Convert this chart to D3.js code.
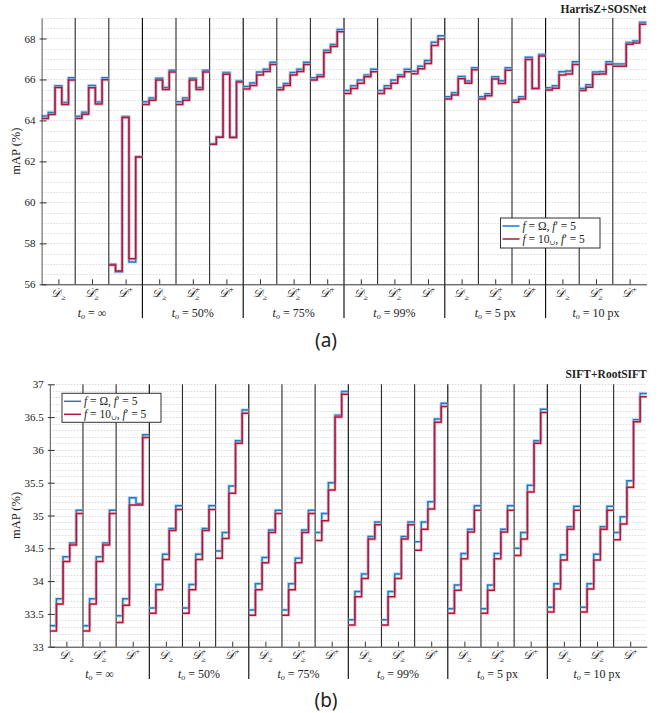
<!DOCTYPE html>
<html><head><meta charset="utf-8">
<script src="https://cdn.jsdelivr.net/npm/d3@7"></script>
<style>
body{margin:0;background:#fff;}
svg{display:block;}
text{font-family:"Liberation Serif","DejaVu Serif",serif;fill:#222;}
</style></head>
<body><svg id="c" width="667" height="713"></svg>
<script>
// ---------- data ----------
const subsets = ["D≥", "D+≥", "D+"];
const thresholds = ["∞", "50%", "75%", "99%", "5 px", "10 px"];
const seriesNames = ["f = Ω, f′ = 5", "f = 10∪, f′ = 5"];

const aTicks = [56, 58, 60, 62, 64, 66, 68];
const bTicks = [33, 33.5, 34, 34.5, 35, 35.5, 36, 36.5, 37];

const aBlue = [
 [64.21,64.39,65.69,64.88,66.08],[64.20,64.40,65.70,64.90,66.08],[56.98,56.61,64.19,57.09,62.22],
 [64.91,65.10,66.06,65.61,66.45],[64.91,65.10,66.06,65.61,66.45],[62.84,63.19,66.34,63.19,65.93],
 [65.66,65.83,66.36,66.50,66.84],[65.60,65.80,66.34,66.50,66.84],[66.08,66.22,67.43,67.71,68.44],
 [65.46,65.69,65.97,66.22,66.50],[65.46,65.69,65.97,66.22,66.50],[66.40,66.65,66.93,67.82,68.13],
 [65.15,65.35,66.15,65.92,66.57],[65.15,65.30,66.13,65.94,66.57],[64.99,65.15,67.08,65.56,67.22],
 [65.59,65.69,66.38,66.41,66.86],[65.56,65.74,66.36,66.38,66.86],[66.75,66.75,67.80,67.88,68.79]
];
const aRed = [
 [64.10,64.29,65.61,64.78,65.97],[64.10,64.30,65.60,64.80,65.98],[56.94,56.65,64.14,57.25,62.22],
 [64.78,64.99,65.97,65.51,66.36],[64.78,64.99,65.97,65.51,66.36],[62.84,63.18,66.26,63.17,65.87],
 [65.54,65.71,66.22,66.39,66.73],[65.50,65.70,66.22,66.39,66.73],[65.97,66.13,67.32,67.61,68.33],
 [65.32,65.56,65.82,66.13,66.38],[65.32,65.56,65.82,66.13,66.38],[66.28,66.52,66.78,67.66,67.97],
 [65.04,65.24,66.04,65.82,66.47],[65.04,65.20,66.02,65.80,66.45],[64.89,65.05,66.98,65.56,67.14],
 [65.48,65.57,66.22,66.27,66.73],[65.46,65.62,66.26,66.27,66.74],[66.65,66.65,67.72,67.78,68.70]
];
const bBlue = [
 [33.32,33.73,34.37,34.58,35.08],[33.32,33.73,34.37,34.58,35.08],[33.47,33.73,35.27,35.18,36.23],
 [33.59,33.95,34.41,34.80,35.15],[33.59,33.95,34.41,34.80,35.15],[34.46,34.74,35.45,36.14,36.61],
 [33.56,33.96,34.36,34.78,35.08],[33.56,33.96,34.35,34.78,35.08],[34.74,35.03,35.50,36.53,36.89],
 [33.41,33.84,34.11,34.68,34.90],[33.41,33.84,34.11,34.68,34.90],[34.60,34.90,35.21,36.47,36.71],
 [33.58,33.94,34.42,34.79,35.15],[33.58,33.94,34.42,34.79,35.15],[34.50,34.74,35.46,36.14,36.62],
 [33.60,33.96,34.40,34.83,35.14],[33.60,33.96,34.41,34.83,35.14],[34.74,34.98,35.53,36.46,36.86]
];
const bRed = [
 [33.24,33.65,34.30,34.55,35.03],[33.24,33.65,34.30,34.55,35.03],[33.37,33.63,35.16,35.16,36.19],
 [33.51,33.87,34.33,34.77,35.09],[33.51,33.87,34.33,34.77,35.09],[34.35,34.65,35.34,36.10,36.56],
 [33.48,33.87,34.28,34.74,35.03],[33.48,33.87,34.28,34.74,35.03],[34.62,34.92,35.39,36.50,36.85],
 [33.33,33.76,34.04,34.64,34.86],[33.33,33.76,34.04,34.64,34.86],[34.47,34.79,35.10,36.42,36.66],
 [33.51,33.86,34.34,34.75,35.08],[33.51,33.86,34.34,34.75,35.08],[34.39,34.64,35.36,36.10,36.57],
 [33.53,33.88,34.32,34.79,35.08],[33.53,33.88,34.32,34.79,35.08],[34.63,34.87,35.43,36.43,36.81]
];

const colors = ["#1f78c8", "#b0173a"];
const halo = ["#8cc0ea", "#e79aa9"];

const panels = [
 {x0:41.6, x1:646.4, yTop:18, yBot:284.3, dom:[56,69], ticks:aTicks, grid:0.5, fmt:d3.format("d"),
  series:[aBlue,aRed], title:"HarrisZ+SOSNet", titleY:13, subY:297, thY:317, sepBot:318,
  legend:{x:500.5,y:218,w:99.5,h:30}, ylabX:20, tag:"(a)", tagY:347},
 {x0:49.8, x1:646.8, yTop:384.3, yBot:646.7, dom:[33,37], ticks:bTicks, grid:0.1, fmt:d3.format("~g"),
  series:[bBlue,bRed], title:"SIFT+RootSIFT", titleY:378, subY:659, thY:678, sepBot:679,
  legend:{x:62,y:393.3,w:99,h:29}, ylabX:20, tag:"(b)", tagY:707}
];

const svg = d3.select("#c");
const nG = 18, nS = 5;

function addSubsetLabel(g, x, y, s) {
  const t = g.append("text").attr("x", x).attr("y", y).attr("text-anchor", "middle")
    .style("font-size", "12px").style("font-style","italic").attr("fill","#444");
  t.append("tspan").text("𝒟");
  if (s === "D≥") {
    t.append("tspan").attr("dy", 3).style("font-size","8px").style("font-style","normal").text("≥");
  } else if (s === "D+≥") {
    t.append("tspan").attr("dy", -5).style("font-size","8px").style("font-style","normal").text("+");
    t.append("tspan").attr("dx", -5).attr("dy", 8).style("font-size","8px").style("font-style","normal").text("≥");
  } else {
    t.append("tspan").attr("dy", -5).style("font-size","8px").style("font-style","normal").text("+");
  }
}

function addThLabel(g, x, y, s) {
  const t = g.append("text").attr("x", x).attr("y", y).attr("text-anchor", "middle")
    .style("font-size", "12px").attr("fill","#222");
  t.append("tspan").style("font-style","italic").text("t");
  t.append("tspan").attr("dy", 2).style("font-size","8px").style("font-style","italic").text("o");
  t.append("tspan").attr("dy", -2).text(" = " + s);
}

function legendText(g, x, y, i) {
  const t = g.append("text").attr("x", x).attr("y", y).style("font-size","11.5px").attr("fill","#222");
  t.append("tspan").style("font-style","italic").text("f");
  if (i === 0) {
    t.append("tspan").text(" = Ω, ");
  } else {
    t.append("tspan").text(" = 10");
    t.append("tspan").attr("dy", 2).style("font-size","7px").text("∪");
    t.append("tspan").attr("dy", -2).text(", ");
  }
  t.append("tspan").style("font-style","italic").text("f");
  t.append("tspan").text("′ = 5");
}

panels.forEach(p => {
  const g = svg.append("g");
  const x = d3.scaleLinear().domain([0, nG]).range([p.x0, p.x1]);
  const y = d3.scaleLinear().domain(p.dom).range([p.yBot, p.yTop]);

  // minor dotted grid
  const nGrid = Math.round((p.dom[1]-p.dom[0])/p.grid);
  const gv = d3.range(1, nGrid+1).map(k => p.dom[0] + k*p.grid);
  g.append("g").selectAll("line").data(gv).join("line")
    .attr("x1", p.x0).attr("x2", p.x1)
    .attr("y1", d => Math.round(y(d))+0.5).attr("y2", d => Math.round(y(d))+0.5)
    .attr("stroke", "#d2d2d2").attr("stroke-width", 0.8).attr("stroke-dasharray", "1.5,1.5");

  // group separators
  const seps = d3.range(1, nG);
  g.append("g").selectAll("line").data(seps).join("line")
    .attr("x1", d => x(d)).attr("x2", d => x(d))
    .attr("y1", p.yTop).attr("y2", d => d % 3 === 0 ? p.sepBot : p.yBot)
    .attr("stroke", d => d % 3 === 0 ? "#000" : "#2a2a2a").attr("stroke-width", 1.1);

  // series step lines
  const line = d3.line().x(d => x(d[0])).y(d => y(d[1])).curve(d3.curveStepAfter);
  p.series.forEach((ser, si) => {
    const sg = g.append("g");
    ser.forEach((vals, gi) => {
      const pts = vals.map((v, k) => [gi + k/nS, v]);
      pts.push([gi + 1, vals[nS-1]]);
      sg.append("path").attr("d", line(pts)).attr("fill","none")
        .attr("stroke", halo[si]).attr("stroke-width", 3.2).attr("stroke-opacity", 0.55);
    });
    ser.forEach((vals, gi) => {
      const pts = vals.map((v, k) => [gi + k/nS, v]);
      pts.push([gi + 1, vals[nS-1]]);
      sg.append("path").attr("d", line(pts)).attr("fill","none")
        .attr("stroke", colors[si]).attr("stroke-width", 1.5);
    });
  });

  // axes
  const ya = d3.axisLeft(y).tickValues(p.ticks).tickFormat(p.fmt).tickSizeInner(-5).tickSizeOuter(0).tickPadding(6);
  const yg = g.append("g").attr("transform", `translate(${p.x0},0)`).call(ya);
  yg.select(".domain").attr("stroke", "#555");
  yg.selectAll(".tick line").attr("stroke", "#333").attr("x1", -2);
  yg.selectAll(".tick text").style("font-size","11px").style("font-family","'Liberation Serif',serif").attr("fill","#333");

  const centers = d3.range(nG).map(i => i + 0.5);
  const xa = d3.axisBottom(x).tickValues(centers).tickFormat("").tickSizeInner(-5).tickSizeOuter(0);
  const xg = g.append("g").attr("transform", `translate(0,${p.yBot})`).call(xa);
  xg.select(".domain").attr("stroke", "#333");
  xg.selectAll(".tick line").attr("stroke", "#333");

  // labels
  centers.forEach((c, i) => addSubsetLabel(g, x(c), p.subY, subsets[i % 3]));
  thresholds.forEach((s, i) => addThLabel(g, x(i*3 + 1.5), p.thY, s));

  g.append("text").attr("transform", `translate(${p.ylabX},${(p.yTop+p.yBot)/2}) rotate(-90)`)
    .attr("text-anchor","middle").style("font-size","12.5px").text("mAP (%)");

  g.append("text").attr("x", p.x1).attr("y", p.titleY).attr("text-anchor","end")
    .style("font-size","11.5px").style("font-weight","bold").attr("fill","#111").text(p.title);

  // legend
  const L = p.legend;
  const lg = g.append("g");
  lg.append("rect").attr("x", L.x).attr("y", L.y).attr("width", L.w).attr("height", L.h)
    .attr("fill", "#fff").attr("stroke", "#333").attr("stroke-width", 1);
  seriesNames.forEach((nm, i) => {
    const ly = L.y + 8 + i*13;
    lg.append("line").attr("x1", L.x+2).attr("x2", L.x+19).attr("y1", ly).attr("y2", ly)
      .attr("stroke", colors[i]).attr("stroke-width", 1.5);
    legendText(lg, L.x+22, ly+4, i);
  });

  g.append("text").attr("x", 326).attr("y", p.tagY).attr("text-anchor","middle")
    .style("font-family","'Noto Sans','DejaVu Sans',sans-serif").style("font-size","19px").attr("fill","#111").text(p.tag);
});
</script></body></html>
